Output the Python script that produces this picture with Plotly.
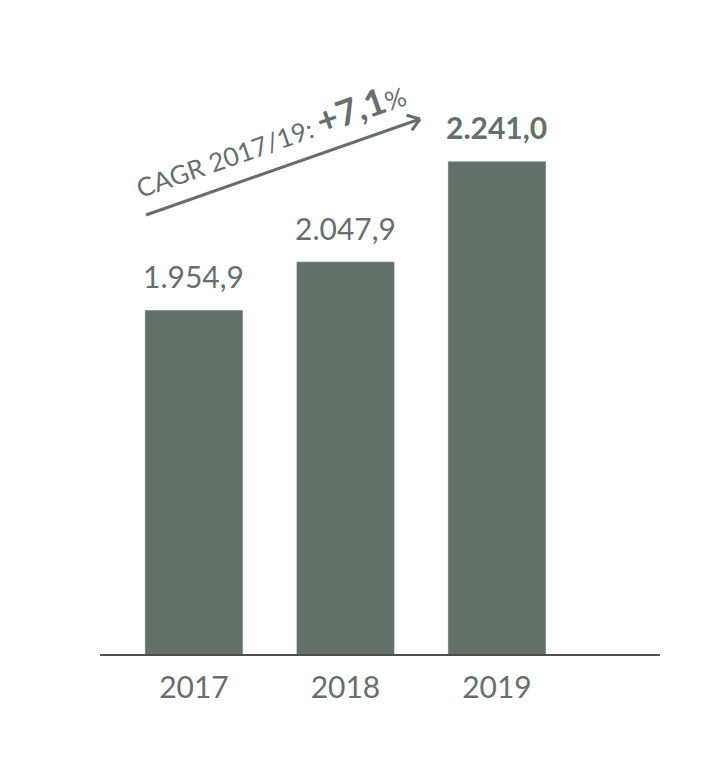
import plotly.graph_objects as go
import math

years = ["2017", "2018", "2019"]
values = [1954.9, 2047.9, 2241.0]
cagr_label = "+7,1"

def fmt(v):
    s = f"{v:,.1f}"
    return s.replace(",", "X").replace(".", ",").replace("X", ".")

BAR = "#637068"
TXT = "#66706b"
FONT = "Lato"

OFF = 8  # default page body margin
W, H = 709 - OFF, 775 - OFF
ML, MR, MT, MB = 92, 49, 12, 121
PW, PH = W - ML - MR, H - MT - MB

def px(x):  # window pixel -> paper
    return (x - OFF - ML) / PW

def py(y):
    return (H - MB - (y - OFF)) / PH

fig = go.Figure()
fig.add_trace(go.Bar(
    x=years, y=values, marker_color=BAR, width=0.647,
    hoverinfo="skip",
))

annotations = []
for i, v in enumerate(values):
    t = fmt(v)
    last = i == len(values) - 1
    if last:
        t = f"<b>{t}</b>"
    annotations.append(dict(
        x=i, y=v, xref="x", yref="y", text=t, showarrow=False,
        xanchor="center", yanchor="bottom", yshift=14,
        font=dict(family=FONT, size=30, color=TXT, weight=700 if last else 400),
    ))

# CAGR text
annotations.append(dict(
    x=px(270), y=py(138), xref="paper", yref="paper",
    xanchor="center", yanchor="middle",
    text=f"CAGR 2017/19: <b><span style='font-size:36px'>{cagr_label}</span></b>%",
    showarrow=False, textangle=-19.3,
    font=dict(family=FONT, size=26, color=TXT, weight=400),
))

# arrow as shapes
x0, y0 = 146, 215
x1, y1 = 420, 119
shapes = [dict(type="line", xref="paper", yref="paper",
               x0=px(x0), y0=py(y0), x1=px(x1), y1=py(y1),
               line=dict(color=TXT, width=3))]
dx, dy = x0 - x1, y0 - y1
L = math.hypot(dx, dy)
ux, uy = dx / L, dy / L
for a in (35, -35):
    r = math.radians(a)
    vx = ux * math.cos(r) - uy * math.sin(r)
    vy = ux * math.sin(r) + uy * math.cos(r)
    shapes.append(dict(type="line", xref="paper", yref="paper",
                       x0=px(x1), y0=py(y1), x1=px(x1 + 14 * vx), y1=py(y1 + 14 * vy),
                       line=dict(color=TXT, width=3)))

fig.update_layout(
    width=W, height=H,
    margin=dict(l=ML, r=MR, t=MT, b=MB),
    plot_bgcolor="white", paper_bgcolor="white",
    showlegend=False,
    annotations=annotations,
    shapes=shapes,
    xaxis=dict(
        type="category", range=[-0.62, 3.076],
        showline=True, linecolor="#4d4d4d", linewidth=1.5,
        showgrid=False, zeroline=False, ticks="",
        tickfont=dict(family=FONT, size=30, color=TXT, weight=400),
        ticklabelstandoff=6,
    ),
    yaxis=dict(
        range=[1293.9, 2512.4], visible=False, showgrid=False, zeroline=False,
    ),
)

fig.write_html("out.html")
